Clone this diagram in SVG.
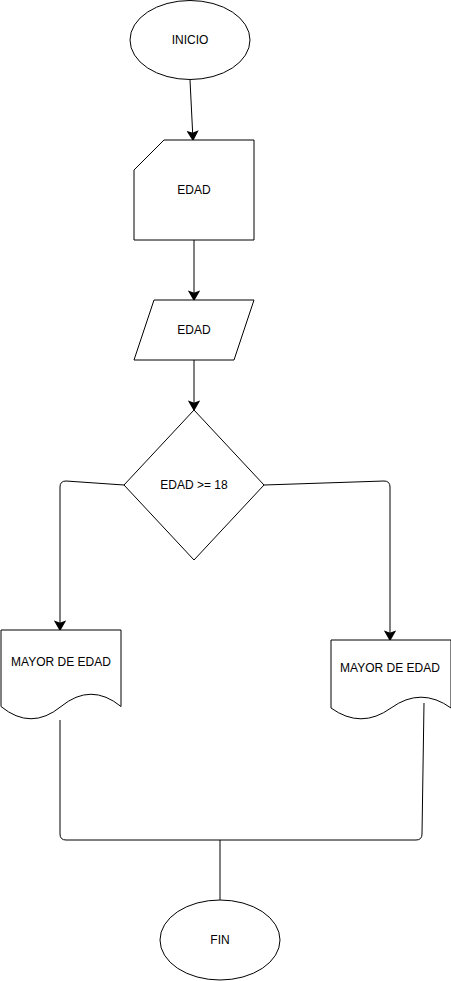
<svg xmlns="http://www.w3.org/2000/svg" width="451" height="981" viewBox="0 0 451 981">
<style>
.s{fill:#fff;stroke:#000;stroke-width:1}
.c{fill:none;stroke:#000;stroke-width:1}
text{font-family:"Liberation Sans",Arial,sans-serif;font-size:12px;fill:#000;text-anchor:middle;dominant-baseline:central}
</style>
<defs>
<marker id="a" markerUnits="userSpaceOnUse" markerWidth="12" markerHeight="12" viewBox="-8 -5 10 10" refX="0" refY="0" orient="auto">
<path d="M-7,-4 L0,0 L-7,4 L-5.5,0 Z" fill="#000" stroke="#000" stroke-width="1"/>
</marker>
</defs>
<g id="connectors">
<path class="c" d="M190,80 L193,140" marker-end="url(#a)"/>
<path class="c" d="M194,240 L194,300" marker-end="url(#a)"/>
<path class="c" d="M194,360 L194,410" marker-end="url(#a)"/>
<path class="c" d="M124,485 L66,481 Q60,481 60,487 L60,630" marker-end="url(#a)"/>
<path class="c" d="M264,485 L384,481 Q390,481 390,487 L390,640" marker-end="url(#a)"/>
<path class="c" d="M60,720 L60,834 Q60,840 66,840 L416,840 Q422,840 422,834 L424,703"/>
<path class="c" d="M220,840 L220,900"/>
</g>
<g id="inicio">
<ellipse class="s" cx="190" cy="40" rx="60" ry="39.5"/>
<text x="190" y="40">INICIO</text>
</g>
<g id="card">
<path class="s" d="M164,140 L254,140 L254,240 L134,240 L134,170 Z"/>
<text x="194" y="190">EDAD</text>
</g>
<g id="input">
<path class="s" d="M154,300 L254,300 L234,360 L134,360 Z"/>
<text x="194" y="330">EDAD</text>
</g>
<g id="decision">
<path class="s" d="M194,410 L264,485 L194,560 L124,485 Z"/>
<text x="194" y="485">EDAD &gt;= 18</text>
</g>
<g id="docLeft">
<path class="s" d="M1,630 L121,630 L121,706.5 Q91,682 61,706.5 Q31,731 1,706.5 Z"/>
<text x="61" y="662">MAYOR DE EDAD</text>
</g>
<g id="docRight">
<path class="s" d="M331,640 L451,640 L451,708 Q421,686.4 391,708 Q361,729.6 331,708 Z"/>
<text x="390" y="668">MAYOR DE EDAD</text>
</g>
<g id="fin">
<ellipse class="s" cx="220" cy="940" rx="60" ry="40"/>
<text x="220" y="940">FIN</text>
</g>
</svg>
